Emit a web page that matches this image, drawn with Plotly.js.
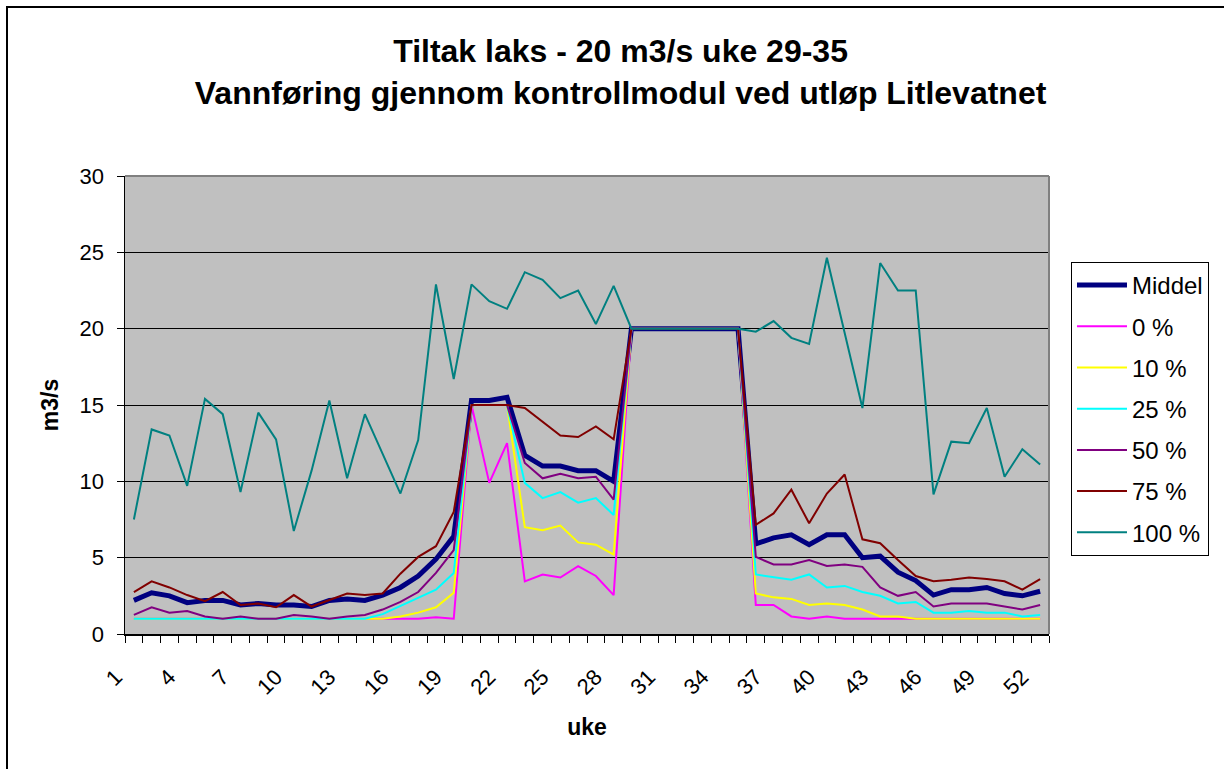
<!DOCTYPE html>
<html>
<head>
<meta charset="utf-8">
<script src="https://cdn.plot.ly/plotly-3.0.1.min.js"></script>
<style>
  html, body { margin: 0; padding: 0; background: #fff; overflow: hidden; }
  #chart { width: 1224px; height: 769px; position: absolute; left: 0; top: 0; }
  #frame { position: absolute; left: 6px; top: 6px; width: 1400px; height: 1000px;
           border-left: 2px solid #000; border-top: 2px solid #000; pointer-events: none; z-index: 10; }
</style>
</head>
<body>
<div id="chart"></div>
<div id="frame"></div>
<script>
const weeks = [1,2,3,4,5,6,7,8,9,10,11,12,13,14,15,16,17,18,19,20,21,22,23,24,25,26,
               27,28,29,30,31,32,33,34,35,36,37,38,39,40,41,42,43,44,45,46,47,48,49,50,51,52];
const tickWeeks = [1,4,7,10,13,16,19,22,25,28,31,34,37,40,43,46,49,52];
const tickLabels = ["1","4","7","10","13","16","19","22","25","28","31","34","37","40","43","46","49","52"];

const seriesNames = ["Middel","0 %","10 %","25 %","50 %","75 %","100 %"];

const middel = [2.2,2.7,2.5,2.05,2.2,2.2,1.9,2.0,1.9,1.9,1.8,2.2,2.3,2.2,2.55,3.05,3.8,
  4.9,6.4,15.3,15.3,15.5,11.7,11.0,11.0,10.7,10.7,10.0,
  20,20,20,20,20,20,20,
  5.9,6.3,6.5,5.85,6.5,6.5,5.0,5.1,4.05,3.5,2.55,2.9,2.9,3.05,2.65,2.5,2.8];
const p0 = [1.0,1.0,1.0,1.0,1.0,1.0,1.0,1.0,1.0,1.0,1.0,1.0,1.0,1.0,1.0,1.0,1.0,
  1.1,1.0,15,9.9,12.5,3.45,3.9,3.7,4.45,3.8,2.55,
  20,20,20,20,20,20,20,
  1.9,1.9,1.15,1.0,1.15,1.0,1.0,1.0,1.0,1.0,1.0,1.0,1.0,1.0,1.0,1.0,1.0];
const p10 = [1.0,1.0,1.0,1.0,1.0,1.0,1.0,1.0,1.0,1.0,1.0,1.0,1.0,1.0,1.0,1.15,1.4,
  1.75,2.7,15,15,15,7.0,6.8,7.1,6.0,5.85,5.2,
  20,20,20,20,20,20,20,
  2.65,2.4,2.3,1.9,2.0,1.9,1.6,1.15,1.15,1.0,1.0,1.0,1.0,1.0,1.0,1.0,1.0];
const p25 = [1.0,1.0,1.0,1.0,1.0,1.0,1.0,1.0,1.0,1.0,1.0,1.0,1.0,1.0,1.3,1.85,2.35,
  2.9,4.0,15,15,15,9.9,8.9,9.3,8.6,8.9,7.8,
  20,20,20,20,20,20,20,
  3.9,3.7,3.55,3.9,3.05,3.15,2.75,2.5,2.0,2.1,1.4,1.4,1.5,1.4,1.4,1.15,1.25];
const p50 = [1.25,1.75,1.4,1.5,1.15,1.0,1.15,1.0,1.0,1.25,1.15,1.0,1.15,1.25,1.6,2.1,2.75,
  4.0,5.5,15,15,15,11.2,10.2,10.5,10.2,10.3,8.8,
  20,20,20,20,20,20,20,
  5.05,4.55,4.55,4.85,4.45,4.55,4.4,3.05,2.5,2.75,1.8,2.0,2.0,2.0,1.8,1.6,1.9];
const p75 = [2.75,3.45,3.05,2.55,2.15,2.75,1.9,2.0,1.75,2.55,1.8,2.25,2.65,2.55,2.65,3.95,5.05,
  5.75,8.0,15,15,15,14.8,13.9,13.0,12.9,13.6,12.75,
  20,20,20,20,20,20,20,
  7.15,7.9,9.45,7.25,9.2,10.45,6.2,5.95,4.85,3.8,3.45,3.55,3.7,3.6,3.45,2.9,3.6];
const p100 = [7.5,13.4,13.0,9.7,15.4,14.4,9.3,14.5,12.75,6.75,10.7,15.3,10.2,14.4,11.8,9.2,12.7,
  22.9,16.7,22.9,21.8,21.3,23.7,23.2,22.0,22.5,20.3,22.8,
  20,20,20,20,20,20,20,
  19.8,20.5,19.4,19.0,24.65,19.7,14.8,24.3,22.5,22.5,9.15,12.6,12.5,14.8,10.3,12.1,11.1];

const seriesValues = [middel,p0,p10,p25,p50,p75,p100];
const colors = ["#000080","#FF00FF","#FFFF00","#00FFFF","#800080","#800000","#008080"];
const widths = [5,2,2,2,2,2,2];

const FONT = "Liberation Sans, Arial, sans-serif";

const traces = seriesValues.map((vals, i) => ({
  type: "scatter",
  mode: "lines",
  x: weeks,
  y: vals,
  name: seriesNames[i],
  legendgroup: "g" + i,
  line: { color: colors[i], width: widths[i] }
}));

const layout = {
  width: 1224,
  height: 769,
  paper_bgcolor: "#FFFFFF",
  plot_bgcolor: "#C0C0C0",
  margin: { l: 125, r: 175, t: 176, b: 135, pad: 0 },
  showlegend: true,
  title: {
    text: "<b>Tiltak laks - 20 m3/s uke 29-35</b><br><b>Vannføring gjennom kontrollmodul ved utløp Litlevatnet</b>",
    font: { family: FONT, size: 32, color: "#000" },
    x: 0.507, xref: "container", xanchor: "center",
    y: 0.919, yref: "container", yanchor: "top"
  },
  xaxis: {
    range: [0.5, 52.5],
    tickmode: "array", tickvals: tickWeeks, ticktext: tickLabels,
    ticks: "", tickangle: -45,
    tickfont: { family: FONT, size: 22, color: "#000" },
    ticklabelstandoff: 20,
    ticklabelshift: -18,
    minor: { tickmode: "linear", tick0: 0.5, dtick: 1, ticks: "outside", ticklen: 7, tickwidth: 1, tickcolor: "#000", showgrid: false },
    showline: true, linecolor: "#000", linewidth: 1.5,
    showgrid: false, zeroline: false,
    title: { text: "<b>uke</b>", font: { family: FONT, size: 23, color: "#000" }, standoff: 20 }
  },
  yaxis: {
    range: [0, 30],
    tickmode: "array", tickvals: [0,5,10,15,20,25,30],
    ticks: "outside", ticklen: 7, tickwidth: 1, tickcolor: "#000",
    tickfont: { family: FONT, size: 22, color: "#000" },
    ticklabelstandoff: 8,
    showline: true, linecolor: "#000", linewidth: 1.5,
    showgrid: true, gridcolor: "#000", gridwidth: 1,
    zeroline: false,
    title: { text: "<b>m3/s</b>", font: { family: FONT, size: 23, color: "#000" }, standoff: 14 }
  },
  legend: {
    x: 1.0238, xanchor: "left", xref: "paper",
    y: 0.8122, yanchor: "top", yref: "paper",
    bgcolor: "#FFFFFF", bordercolor: "#000", borderwidth: 1,
    font: { family: FONT, size: 24, color: "#000" },
    traceorder: "grouped",
    tracegroupgap: 7,
    itemwidth: 50
  },
  shapes: [
    { type: "line", xref: "paper", yref: "paper", x0: 0, x1: 1, y0: 1, y1: 1,
      line: { color: "#808080", width: 2 }, layer: "above" },
    { type: "line", xref: "paper", yref: "paper", x0: 1, x1: 1, y0: 0, y1: 1,
      line: { color: "#808080", width: 2 }, layer: "above" }
  ]
};

Plotly.newPlot("chart", traces, layout, { displayModeBar: false, staticPlot: true });
</script>
</body>
</html>
